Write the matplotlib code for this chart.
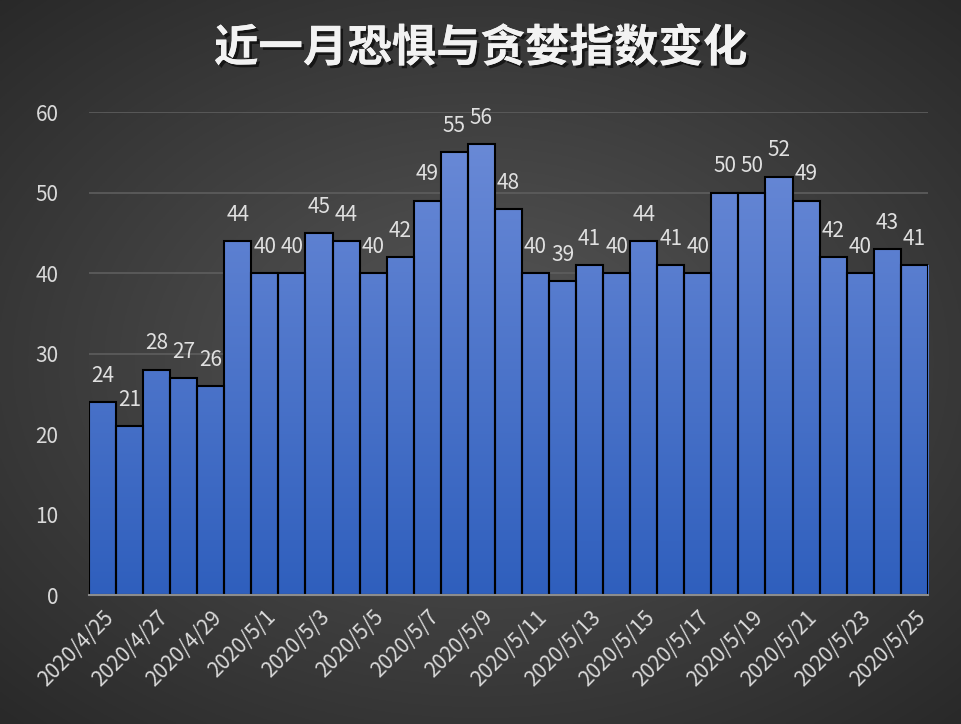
import numpy as np
import matplotlib
matplotlib.use('Agg')
from matplotlib import pyplot as plt
import matplotlib.patheffects as pe

plt.rcParams['font.family'] = ['Noto Sans CJK SC', 'DejaVu Sans']

dates = ['2020/4/25', '2020/4/26', '2020/4/27', '2020/4/28', '2020/4/29', '2020/4/30',
         '2020/5/1', '2020/5/2', '2020/5/3', '2020/5/4', '2020/5/5', '2020/5/6',
         '2020/5/7', '2020/5/8', '2020/5/9', '2020/5/10', '2020/5/11', '2020/5/12',
         '2020/5/13', '2020/5/14', '2020/5/15', '2020/5/16', '2020/5/17', '2020/5/18',
         '2020/5/19', '2020/5/20', '2020/5/21', '2020/5/22', '2020/5/23', '2020/5/24',
         '2020/5/25']
values = [24, 21, 28, 27, 26, 44, 40, 40, 45, 44, 40, 42, 49, 55, 56, 48, 40, 39,
          41, 40, 44, 41, 40, 50, 50, 52, 49, 42, 40, 43, 41]
title = '近一月恐惧与贪婪指数变化'

fig = plt.figure(figsize=(9.62, 7.24), dpi=100)

# radial gradient background
bg = fig.add_axes([0, 0, 1, 1])
yy, xx = np.mgrid[-1:1:400j, -1:1:530j]
r = np.sqrt((xx * 0.95) ** 2 + (yy * 1.0) ** 2)
shade = np.clip(0.34 - 0.13 * r, 0.15, 0.4)
bg.imshow(np.dstack([shade, shade, shade]), extent=[0, 1, 0, 1], aspect='auto')
bg.set_axis_off()

ax = fig.add_axes([0.0925, 0.178, 0.872, 0.667])
ax.set_facecolor('none')
x = np.arange(len(values))
bars = ax.bar(x, values, width=1.0, color='none', edgecolor='black', linewidth=1.5, zorder=3)

grad = np.linspace(0, 1, 256).reshape(-1, 1)
cmap = matplotlib.colors.LinearSegmentedColormap.from_list('b', ['#2f5fbd', '#6d8cd8'])
for b, v in zip(bars, values):
    im = ax.imshow(grad, extent=[b.get_x(), b.get_x() + 1, 0, 60], origin='lower',
                   cmap=cmap, aspect='auto', zorder=2)
    im.set_clip_path(b)
    ax.text(b.get_x() + 0.5, v + 1.9, str(v), ha='center', va='bottom',
            color='#e0e0e0', fontsize=15, zorder=4)

ax.set_xlim(-0.5, len(values) - 0.5)
ax.set_ylim(0, 60)
ax.set_yticks(range(0, 61, 10))
ax.yaxis.grid(True, color='#5e5e5e', linewidth=1.2, zorder=0)
ax.set_axisbelow(True)
for s in ['top', 'right', 'left']:
    ax.spines[s].set_visible(False)
ax.spines['bottom'].set_color('#8c8c8c')
ax.spines['bottom'].set_linewidth(1.5)
ax.spines['bottom'].set_zorder(5)
ax.tick_params(axis='y', length=0, colors='#d9d9d9', labelsize=15, pad=22)
ax.set_xticks(x[::2])
ax.set_xticklabels(dates[::2], rotation=45, ha='right', rotation_mode='anchor',
                   color='#d9d9d9', fontsize=15)
ax.tick_params(axis='x', length=0, pad=8)

fig.text(0.5, 0.933, title, ha='center', va='center', color='#f2f2f2', fontsize=32,
         fontweight='bold',
         path_effects=[pe.withSimplePatchShadow(offset=(2, -2), shadow_rgbFace='black', alpha=0.6), pe.Normal()])

fig.savefig('out.png', dpi=100)
